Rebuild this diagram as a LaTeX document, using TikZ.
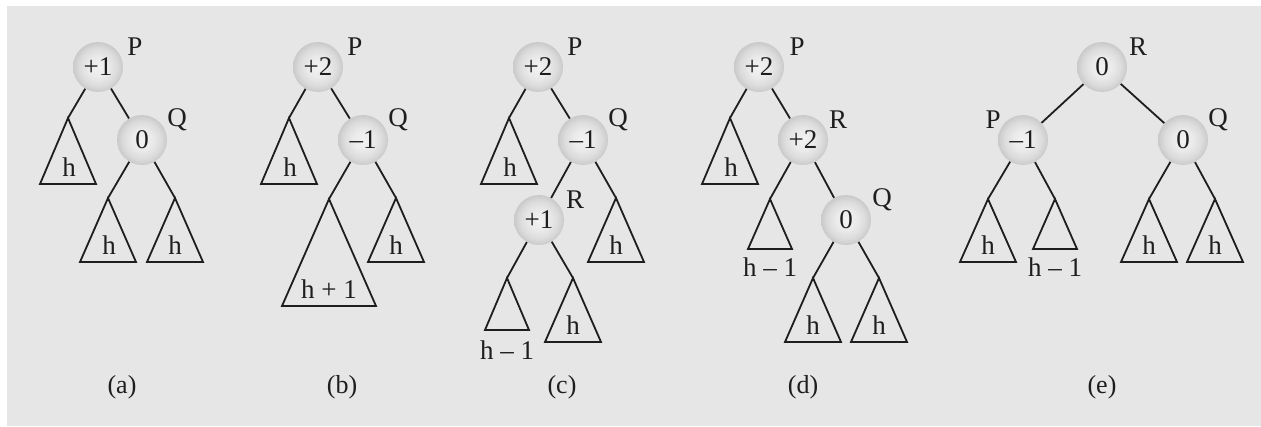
\documentclass[tikz,border=0pt]{standalone}
\usepackage{fontspec}
\setmainfont{Liberation Serif}
\definecolor{bgc}{HTML}{E6E6E6}
\definecolor{inkc}{HTML}{1E1E1E}
\pgfdeclareradialshading{avlball}{\pgfpoint{0bp}{0bp}}{%
  color(0bp)=(white!95!black); color(10bp)=(white!92!black);
  color(19bp)=(white!86!black); color(25bp)=(white!79!black);
  color(50bp)=(white!79!black)}
\newcommand\subtree[4]{%
  \coordinate (#1) at #2;
  \draw[tri] (#1) -- ++(-#3,#4) -- ++(2*#3,0) -- cycle;}
\begin{document}
\begin{tikzpicture}[x=1pt,y=-1pt,
  ball/.style={circle,minimum size=50pt,inner sep=0pt,shading=avlball,
    font=\fontsize{27}{27}\selectfont,text=inkc},
  edge/.style={draw=inkc,line width=1.8pt},
  tri/.style={draw=inkc,line width=1.8pt,line join=miter},
  lbl/.style={font=\fontsize{27}{27}\selectfont,text=inkc,inner sep=0pt},
  captxt/.style={font=\fontsize{26}{26}\selectfont,text=inkc,inner sep=0pt}]
\useasboundingbox (0,0) rectangle (1261,426);
\fill[white] (0,0) rectangle (1261,426);
\fill[bgc] (7,6) rectangle (1261,426);

% ---------- (a)
\node[ball] (aP) at (98,67) {+1};
\node[lbl] (aPl) at (135,47) {P};
\node[ball] (aQ) at (142,140) {0};
\node[lbl] (aQl) at (177,120) {Q};
\subtree{aT1}{(68,118)}{28}{66}
\subtree{aT2}{(108,198)}{28}{64}
\subtree{aT3}{(175,198)}{28}{64}
\draw[edge] (aP) -- (aT1);
\draw[edge] (aP) -- (aQ);
\draw[edge] (aQ) -- (aT2);
\draw[edge] (aQ) -- (aT3);
\node[lbl] (aT1l) at (69,167) {h};
\node[lbl] (aT2l) at (109,245) {h};
\node[lbl] (aT3l) at (175,245) {h};
\node[captxt] (acap) at (122,387) {(a)};

% ---------- (b)
\node[ball] (bP) at (318,67) {+2};
\node[lbl] (bPl) at (355,47) {P};
\node[ball] (bQ) at (363,140) {–1};
\node[lbl] (bQl) at (398,120) {Q};
\subtree{bT1}{(289,118)}{28}{66}
\subtree{bT2}{(329,199)}{47}{107}
\subtree{bT3}{(396,198)}{28}{64}
\draw[edge] (bP) -- (bT1);
\draw[edge] (bP) -- (bQ);
\draw[edge] (bQ) -- (bT2);
\draw[edge] (bQ) -- (bT3);
\node[lbl] (bT1l) at (290,167) {h};
\node[lbl] (bT2l) at (329,289) {h + 1};
\node[lbl] (bT3l) at (396,245) {h};
\node[captxt] (bcap) at (342,387) {(b)};

% ---------- (c)
\node[ball] (cP) at (538,67) {+2};
\node[lbl] (cPl) at (575,47) {P};
\node[ball] (cQ) at (583,140) {–1};
\node[lbl] (cQl) at (618,120) {Q};
\node[ball] (cR) at (539,220) {+1};
\node[lbl] (cRl) at (575,200) {R};
\subtree{cT1}{(509,118)}{28}{66}
\subtree{cT2}{(616,198)}{28}{64}
\subtree{cT3}{(507,278)}{22}{52}
\subtree{cT4}{(573,278)}{28}{64}
\draw[edge] (cP) -- (cT1);
\draw[edge] (cP) -- (cQ);
\draw[edge] (cQ) -- (cR);
\draw[edge] (cQ) -- (cT2);
\draw[edge] (cR) -- (cT3);
\draw[edge] (cR) -- (cT4);
\node[lbl] (cT1l) at (510,167) {h};
\node[lbl] (cT2l) at (616,245) {h};
\node[lbl] (cT3l) at (507,350) {h – 1};
\node[lbl] (cT4l) at (573,325) {h};
\node[captxt] (ccap) at (562,387) {(c)};

% ---------- (d)
\node[ball] (dP) at (759,67) {+2};
\node[lbl] (dPl) at (797,47) {P};
\node[ball] (dR) at (803,140) {+2};
\node[lbl] (dRl) at (838,120) {R};
\node[ball] (dQ) at (846,220) {0};
\node[lbl] (dQl) at (882,200) {Q};
\subtree{dT1}{(730,118)}{28}{66}
\subtree{dT2}{(770,199)}{22}{50}
\subtree{dT3}{(813,278)}{28}{64}
\subtree{dT4}{(879,278)}{28}{64}
\draw[edge] (dP) -- (dT1);
\draw[edge] (dP) -- (dR);
\draw[edge] (dR) -- (dT2);
\draw[edge] (dR) -- (dQ);
\draw[edge] (dQ) -- (dT3);
\draw[edge] (dQ) -- (dT4);
\node[lbl] (dT1l) at (731,167) {h};
\node[lbl] (dT2l) at (770,267) {h – 1};
\node[lbl] (dT3l) at (813,325) {h};
\node[lbl] (dT4l) at (879,325) {h};
\node[captxt] (dcap) at (803,387) {(d)};

% ---------- (e)
\node[ball] (eR) at (1102,67) {0};
\node[lbl] (eRl) at (1138,47) {R};
\node[ball] (eP) at (1023,140) {–1};
\node[lbl] (ePl) at (993,120) {P};
\node[ball] (eQ) at (1183,140) {0};
\node[lbl] (eQl) at (1218,120) {Q};
\subtree{eT1}{(988,199)}{28}{63}
\subtree{eT2}{(1055,199)}{22}{50}
\subtree{eT3}{(1149,199)}{28}{63}
\subtree{eT4}{(1215,199)}{28}{63}
\draw[edge] (eR) -- (eP);
\draw[edge] (eR) -- (eQ);
\draw[edge] (eP) -- (eT1);
\draw[edge] (eP) -- (eT2);
\draw[edge] (eQ) -- (eT3);
\draw[edge] (eQ) -- (eT4);
\node[lbl] (eT1l) at (988,245) {h};
\node[lbl] (eT2l) at (1055,267) {h – 1};
\node[lbl] (eT3l) at (1149,245) {h};
\node[lbl] (eT4l) at (1215,245) {h};
\node[captxt] (ecap) at (1102,387) {(e)};
\end{tikzpicture}
\end{document}
